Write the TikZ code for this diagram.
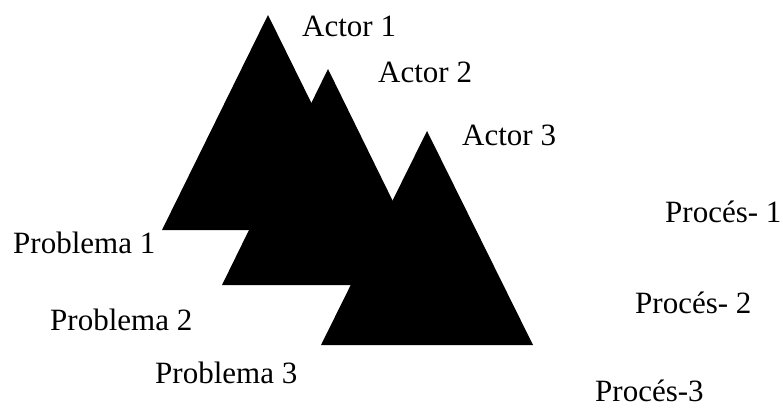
\documentclass[tikz,border=0pt]{standalone}
\usepackage{fontspec}
\setmainfont{Liberation Serif}
\begin{document}
\begin{tikzpicture}[x=1pt,y=-1pt,
  lbl/.style={anchor=base west,inner sep=0pt,font=\fontsize{31}{36}\selectfont},
  tri/.style={fill=black,draw=none}]
\useasboundingbox (0,0) rectangle (783,409);
% triangles
\fill[tri] (268,15) -- (374,230) -- (162,230) -- cycle;
\fill[tri] (328,69) -- (434,285) -- (222,285) -- cycle;
\fill[tri] (427,131) -- (533,345) -- (321,345) -- cycle;
% labels
\node[lbl] (a1) at (302,37) {Actor 1};
\node[lbl] (a2) at (378,83) {Actor 2};
\node[lbl] (a3) at (462,145) {Actor 3};
\node[lbl] (p1) at (13,253) {Problema 1};
\node[lbl] (p2) at (50,330) {Problema 2};
\node[lbl] (p3) at (155,383) {Problema 3};
\node[lbl] (r1) at (665,222) {Procés- 1};
\node[lbl] (r2) at (635,313) {Procés- 2};
\node[lbl] (r3) at (595,401) {Procés-3};
\end{tikzpicture}
\end{document}
